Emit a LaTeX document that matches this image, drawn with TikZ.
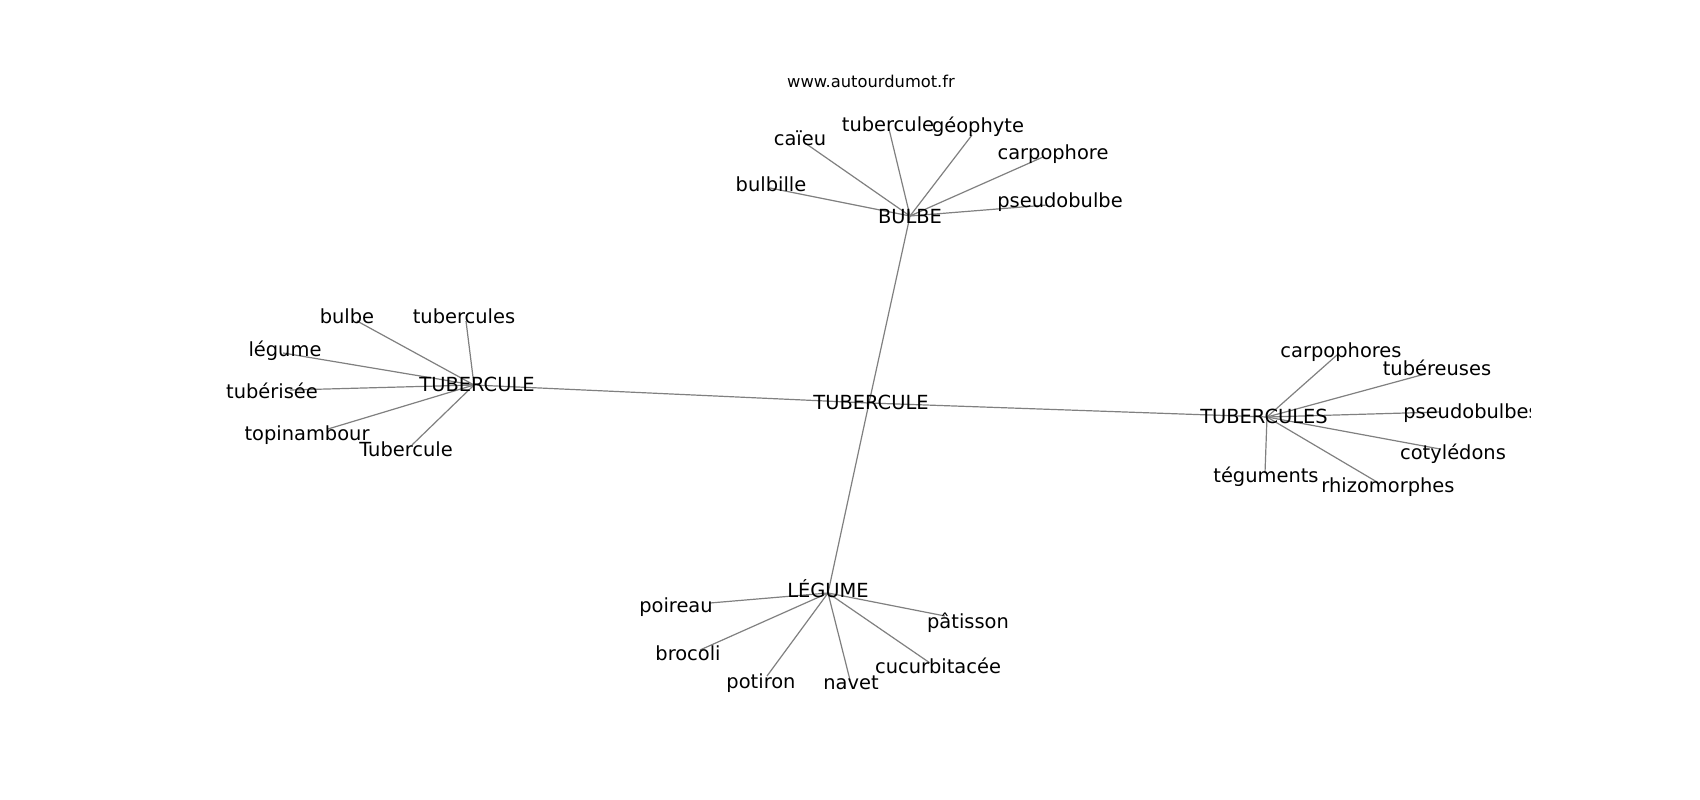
\documentclass[tikz,border=0pt]{standalone}
\usepackage{fontspec}
\setmainfont{DejaVu Sans}
\begin{document}
\begin{tikzpicture}[x=1pt,y=-1pt,
  edge/.style={draw=gray,line width=1.2pt},
  lbl/.style={font=\fontsize{19.44}{23}\selectfont,inner sep=0pt,anchor=base,text=black},
  urllbl/.style={font=\fontsize{16.3}{20}\selectfont,inner sep=0pt,anchor=base,text=black}]
\useasboundingbox[fill=white] (0,0) rectangle (1700,800);
% graph node positions
\coordinate (c) at (869,403);
\coordinate (bu) at (910,216);
\coordinate (lt) at (474,385);
\coordinate (rs) at (1267,417);
\coordinate (lg) at (828,593);
\coordinate (bu1) at (805,143);
\coordinate (bu2) at (889,129);
\coordinate (bu3) at (972,135);
\coordinate (bu4) at (1043,157);
\coordinate (bu5) at (770,188);
\coordinate (bu6) at (1047,205);
\coordinate (lt1) at (357,321);
\coordinate (lt2) at (466,321);
\coordinate (lt3) at (283,353);
\coordinate (lt4) at (290,390);
\coordinate (lt5) at (328,429);
\coordinate (lt6) at (412,445);
\coordinate (rs1) at (1337,355);
\coordinate (rs2) at (1425,374);
\coordinate (rs3) at (1440,412);
\coordinate (rs4) at (1440,449);
\coordinate (rs5) at (1265,473);
\coordinate (rs6) at (1377,482);
\coordinate (lg1) at (710,603);
\coordinate (lg2) at (945,616);
\coordinate (lg3) at (700,650);
\coordinate (lg4) at (767,676);
\coordinate (lg5) at (850,680);
\coordinate (lg6) at (930,663);
% edges
\foreach \t in {bu,lt,rs,lg} \draw[edge] (c) -- (\t);
\foreach \i in {1,...,6} {
  \draw[edge] (bu) -- (bu\i);
  \draw[edge] (lt) -- (lt\i);
  \draw[edge] (rs) -- (rs\i);
  \draw[edge] (lg) -- (lg\i);
}
% labels
\node[urllbl] (url) at (871,88) {www.autourdumot.fr};
\begin{scope}
\clip (0,0) rectangle (1530,800);
\node[lbl] (Lc) at (871,409) {TUBERCULE};
\node[lbl] (Lbu) at (910,223) {BULBE};
\node[lbl] (Lbu1) at (800,145) {caïeu};
\node[lbl] (Lbu2) at (888,131) {tubercule};
\node[lbl] (Lbu3) at (978,132) {géophyte};
\node[lbl] (Lbu4) at (1053,159) {carpophore};
\node[lbl] (Lbu5) at (771,191) {bulbille};
\node[lbl] (Lbu6) at (1060,207) {pseudobulbe};
\node[lbl] (Llt) at (477,391) {TUBERCULE};
\node[lbl] (Llt1) at (347,323) {bulbe};
\node[lbl] (Llt2) at (464,323) {tubercules};
\node[lbl] (Llt3) at (285,356) {légume};
\node[lbl] (Llt4) at (272,398) {tubérisée};
\node[lbl] (Llt5) at (307,440) {topinambour};
\node[lbl] (Llt6) at (406,456) {Tubercule};
\node[lbl] (Lrs) at (1264,423) {TUBERCULES};
\node[lbl] (Lrs1) at (1341,357) {carpophores};
\node[lbl] (Lrs2) at (1437,375) {tubéreuses};
\node[lbl] (Lrs3) at (1471,418) {pseudobulbes};
\node[lbl] (Lrs4) at (1453,459) {cotylédons};
\node[lbl] (Lrs5) at (1266,482) {téguments};
\node[lbl] (Lrs6) at (1388,492) {rhizomorphes};
\node[lbl] (Llg) at (828,597) {LÉGUME};
\node[lbl] (Llg1) at (676,612) {poireau};
\node[lbl] (Llg2) at (968,628) {pâtisson};
\node[lbl] (Llg3) at (688,660) {brocoli};
\node[lbl] (Llg4) at (761,688) {potiron};
\node[lbl] (Llg5) at (851,689) {navet};
\node[lbl] (Llg6) at (938,673) {cucurbitacée};
\end{scope}
\end{tikzpicture}
\end{document}
